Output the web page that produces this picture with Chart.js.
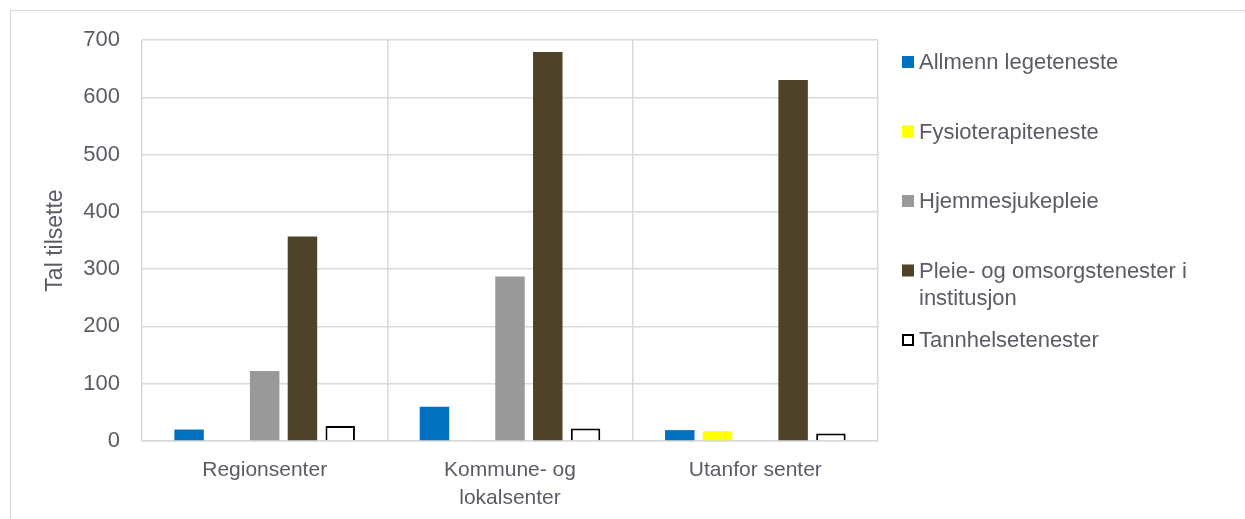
<!DOCTYPE html>
<html lang="no">
<head>
  <meta charset="UTF-8" />
  <title>Tal tilsette</title>
  <script src="https://cdn.jsdelivr.net/npm/chart.js"></script>
  <style>
    html, body { margin: 0; padding: 0; background: #fff; overflow: hidden; }
    #frame { position: absolute; left: 10px; top: 10px; width: 1245px; height: 520px; border: 1px solid #d9d9d9; box-sizing: border-box; }
    #wrap { position: absolute; left: 0; top: 0; width: 1245px; height: 519px; }
  </style>
</head>
<body>
  <div id="frame"></div>
  <div id="wrap"><canvas id="chart"></canvas></div>

  <script>
    // kategoriar og seriar
    const categories = ['Regionsenter', ['Kommune- og', 'lokalsenter'], 'Utanfor senter'];
    const allmenn = [20, 60, 19];
    const fysio = [0, 0, 17];
    const hjemme = [122, 287, 0];
    const pleie = [357, 679, 630];
    const tannhelse = [26, 22, 13];
    const yTicks = [0, 100, 200, 300, 400, 500, 600, 700];

    const seriesNames = ['Allmenn legeteneste', 'Fysioterapiteneste', 'Hjemmesjukepleie', ['Pleie- og omsorgstenester i', 'institusjon'], 'Tannhelsetenester'];
    const textColor = '#5f5966';
    const gridColor = '#d9d9d9';
    const font = "'Liberation Sans', Arial, sans-serif";

    // egen legende til høgre, med fleirlinjers tekst
    const sideLegend = {
      id: 'sideLegend',
      afterDraw(chart) {
        const ctx = chart.ctx;
        const x = chart.chartArea.right + 24;
        let y = 62;
        ctx.save();
        ctx.font = '22px ' + font;
        ctx.textBaseline = 'middle';
        chart.data.datasets.forEach(ds => {
          const lines = Array.isArray(ds.label) ? ds.label : [ds.label];
          if (ds.borderWidth) {
            ctx.fillStyle = '#fff';
            ctx.fillRect(x, y - 6, 12, 12);
            ctx.strokeStyle = ds.borderColor;
            ctx.lineWidth = 2;
            ctx.strokeRect(x + 1, y - 5, 10, 10);
          } else {
            ctx.fillStyle = ds.backgroundColor;
            ctx.fillRect(x, y - 6, 12, 12);
          }
          ctx.fillStyle = textColor;
          lines.forEach((l, i) => ctx.fillText(l, x + 17, y + 1 + i * 27));
          y += 69.5;
        });
        ctx.restore();
      }
    };

    const ctx = document.getElementById('chart').getContext('2d');
    new Chart(ctx, {
      type: 'bar',
      data: {
        labels: categories,
        datasets: [
          { label: seriesNames[0], data: allmenn, backgroundColor: '#0070c0' },
          { label: seriesNames[1], data: fysio, backgroundColor: '#ffff00' },
          { label: seriesNames[2], data: hjemme, backgroundColor: '#999999' },
          { label: seriesNames[3], data: pleie, backgroundColor: '#4e4329' },
          { label: seriesNames[4], data: tannhelse, backgroundColor: '#ffffff', borderColor: '#000000', borderWidth: 2 }
        ]
      },
      options: {
        responsive: true,
        maintainAspectRatio: false,
        animation: false,
        datasets: { bar: { barPercentage: 0.78, categoryPercentage: 0.77 } },
        layout: { padding: { left: 38, right: 367, top: 40, bottom: 0 } },
        plugins: {
          legend: { display: false },
          tooltip: { enabled: false }
        },
        scales: {
          x: {
            grid: { color: gridColor, lineWidth: 1.5, drawTicks: false, offset: true },
            border: { color: gridColor, width: 1.5 },
            ticks: { color: textColor, font: { size: 21, family: font, lineHeight: 1.3 }, padding: 16, maxRotation: 0 },
            afterFit: s => { s.height = 78; }
          },
          y: {
            min: 0, max: 700,
            afterBuildTicks: s => { s.ticks = yTicks.map(v => ({ value: v })); },
            grid: { color: gridColor, lineWidth: 1.5, drawTicks: false },
            border: { display: false },
            ticks: { color: textColor, font: { size: 22, family: font }, padding: 22 },
            title: { display: true, text: 'Tal tilsette', color: textColor, font: { size: 23, family: font } },
            afterFit: s => { s.width = 104; }
          }
        }
      },
      plugins: [sideLegend]
    });
  </script>
</body>
</html>
